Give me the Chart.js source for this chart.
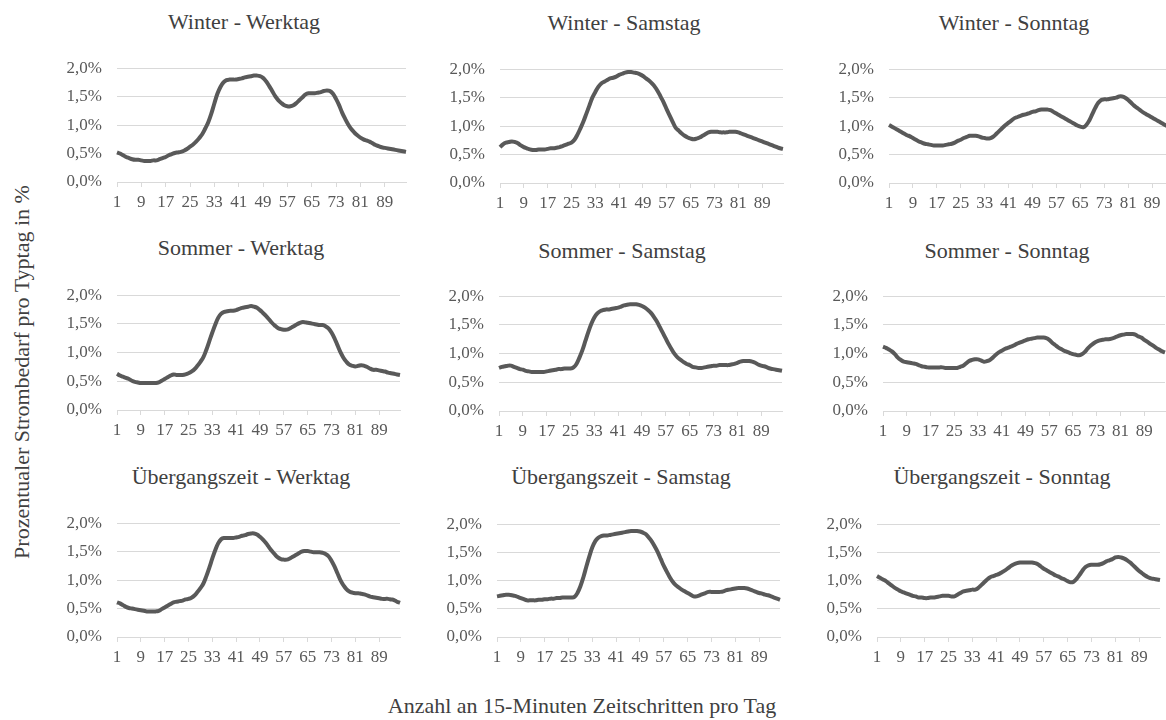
<!DOCTYPE html>
<html><head><meta charset="utf-8">
<script src="https://cdn.jsdelivr.net/npm/chart.js@4.4.1/dist/chart.umd.min.js"></script>
<style>
html,body{margin:0;padding:0;background:#fff;overflow:hidden;font-family:"Liberation Serif","Tinos","Times New Roman",Times,"DejaVu Serif",serif;}
#wrap{position:relative;width:1166px;height:720px;overflow:hidden;color:#404040;}
canvas{position:absolute;}
.ttl{position:absolute;transform:translate(-50%,-50%);white-space:nowrap;font-size:22px;line-height:1;color:#404040;font-family:"Liberation Serif","Tinos","Times New Roman",Times,"DejaVu Serif",serif;}
.ytl{position:absolute;transform:translate(-50%,-50%) rotate(-90deg);white-space:nowrap;font-size:22px;line-height:1;color:#404040;font-family:"Liberation Serif","Tinos","Times New Roman",Times,"DejaVu Serif",serif;}
</style></head><body><div id="wrap"></div>
<script>
// ---- data ----
const categories = Array.from({length:96}, (_, i) => String(i + 1));
const xTickLabels = ['1','9','17','25','33','41','49','57','65','73','81','89'];
const yTicks = [0, 0.5, 1.0, 1.5, 2.0];
const panelTitles = ['Winter - Werktag','Winter - Samstag','Winter - Sonntag',
  'Sommer - Werktag','Sommer - Samstag','Sommer - Sonntag',
  '\u00dcbergangszeit - Werktag','\u00dcbergangszeit - Samstag','\u00dcbergangszeit - Sonntag'];
const xAxisTitle = 'Anzahl an 15-Minuten Zeitschritten pro Tag';
const yAxisTitle = 'Prozentualer Strombedarf pro Typtag in %';

const winterWerktag = [0.52,0.50,0.47,0.44,0.42,0.40,0.39,0.39,0.38,0.37,0.37,0.37,0.38,0.38,0.40,0.42,
0.44,0.47,0.49,0.51,0.52,0.53,0.55,0.58,0.62,0.66,0.71,0.77,0.84,0.94,1.05,1.20,
1.38,1.55,1.67,1.75,1.79,1.80,1.80,1.80,1.81,1.82,1.84,1.85,1.86,1.87,1.87,1.86,
1.83,1.77,1.69,1.60,1.51,1.44,1.39,1.35,1.33,1.33,1.35,1.39,1.44,1.49,1.54,1.56,
1.56,1.56,1.57,1.58,1.60,1.61,1.60,1.55,1.46,1.35,1.22,1.11,1.01,0.93,0.87,0.82,
0.78,0.75,0.73,0.71,0.68,0.65,0.63,0.61,0.60,0.59,0.58,0.57,0.56,0.55,0.54,0.53];
const winterSamstag = [0.63,0.68,0.71,0.72,0.73,0.72,0.70,0.66,0.63,0.61,0.59,0.58,0.58,0.59,0.59,0.59,
0.60,0.61,0.61,0.62,0.63,0.65,0.67,0.69,0.71,0.76,0.85,0.96,1.08,1.22,1.36,1.50,
1.60,1.69,1.75,1.78,1.81,1.84,1.85,1.87,1.90,1.92,1.94,1.95,1.95,1.94,1.93,1.91,
1.88,1.84,1.80,1.75,1.69,1.61,1.51,1.41,1.29,1.18,1.07,0.97,0.92,0.87,0.83,0.80,
0.78,0.77,0.78,0.80,0.83,0.86,0.89,0.90,0.90,0.90,0.89,0.89,0.89,0.90,0.90,0.90,
0.89,0.87,0.85,0.83,0.81,0.79,0.77,0.75,0.73,0.71,0.69,0.67,0.65,0.63,0.61,0.60];
const winterSonntag = [1.02,0.99,0.96,0.93,0.90,0.87,0.84,0.82,0.79,0.76,0.73,0.71,0.69,0.68,0.67,0.66,
0.66,0.66,0.66,0.67,0.68,0.69,0.71,0.74,0.76,0.79,0.81,0.83,0.83,0.83,0.82,0.80,
0.79,0.78,0.79,0.82,0.87,0.92,0.97,1.02,1.06,1.10,1.14,1.16,1.18,1.20,1.21,1.23,
1.25,1.26,1.28,1.29,1.29,1.29,1.28,1.25,1.22,1.19,1.16,1.13,1.10,1.07,1.04,1.01,
0.99,0.98,1.02,1.10,1.21,1.32,1.41,1.46,1.47,1.47,1.48,1.49,1.50,1.52,1.52,1.50,
1.46,1.41,1.36,1.32,1.28,1.24,1.21,1.18,1.15,1.12,1.09,1.06,1.03,1.00,0.97,0.94];
const sommerWerktag = [0.63,0.60,0.58,0.56,0.54,0.51,0.49,0.48,0.47,0.47,0.47,0.47,0.47,0.47,0.48,0.51,
0.54,0.57,0.60,0.62,0.61,0.61,0.61,0.62,0.64,0.67,0.71,0.77,0.84,0.92,1.05,1.20,
1.35,1.49,1.61,1.68,1.71,1.72,1.73,1.73,1.74,1.76,1.78,1.79,1.80,1.81,1.80,1.78,
1.74,1.69,1.64,1.58,1.52,1.47,1.43,1.41,1.40,1.40,1.42,1.45,1.48,1.51,1.53,1.53,
1.52,1.51,1.50,1.49,1.48,1.48,1.46,1.42,1.35,1.25,1.13,1.01,0.91,0.84,0.79,0.77,
0.76,0.77,0.78,0.77,0.75,0.72,0.70,0.70,0.69,0.68,0.67,0.65,0.64,0.63,0.62,0.61];
const sommerSamstag = [0.75,0.77,0.78,0.79,0.79,0.77,0.75,0.73,0.72,0.70,0.69,0.68,0.68,0.68,0.68,0.68,
0.69,0.70,0.71,0.72,0.73,0.73,0.74,0.74,0.74,0.76,0.82,0.93,1.06,1.22,1.38,1.52,
1.63,1.70,1.74,1.76,1.77,1.77,1.78,1.79,1.80,1.82,1.84,1.85,1.86,1.86,1.86,1.85,
1.83,1.80,1.76,1.71,1.64,1.56,1.46,1.36,1.26,1.16,1.07,0.99,0.93,0.89,0.85,0.82,
0.80,0.77,0.76,0.75,0.75,0.76,0.77,0.78,0.79,0.79,0.80,0.80,0.80,0.80,0.81,0.82,
0.84,0.86,0.87,0.87,0.87,0.86,0.84,0.81,0.79,0.78,0.76,0.74,0.73,0.72,0.71,0.70];
const sommerSonntag = [1.12,1.10,1.07,1.04,0.99,0.93,0.89,0.86,0.85,0.84,0.83,0.82,0.80,0.78,0.77,0.76,
0.76,0.76,0.76,0.76,0.76,0.75,0.75,0.75,0.75,0.75,0.77,0.79,0.83,0.87,0.89,0.90,
0.90,0.88,0.86,0.87,0.89,0.93,0.98,1.02,1.05,1.08,1.10,1.12,1.14,1.17,1.19,1.21,
1.23,1.25,1.26,1.27,1.28,1.28,1.28,1.27,1.24,1.19,1.15,1.11,1.08,1.05,1.03,1.01,
0.99,0.98,0.97,0.99,1.03,1.09,1.14,1.18,1.21,1.23,1.24,1.25,1.25,1.26,1.28,1.30,
1.32,1.33,1.34,1.34,1.34,1.33,1.30,1.28,1.24,1.21,1.17,1.14,1.10,1.07,1.04,1.02];
const uebergangWerktag = [0.61,0.59,0.56,0.53,0.51,0.50,0.49,0.48,0.47,0.46,0.45,0.45,0.45,0.45,0.46,0.49,
0.52,0.55,0.58,0.61,0.62,0.63,0.64,0.66,0.67,0.69,0.73,0.79,0.86,0.94,1.07,1.22,
1.38,1.53,1.65,1.72,1.74,1.74,1.74,1.74,1.75,1.76,1.78,1.79,1.81,1.82,1.82,1.80,
1.76,1.71,1.65,1.58,1.51,1.45,1.40,1.37,1.36,1.36,1.38,1.41,1.44,1.47,1.50,1.51,
1.51,1.50,1.49,1.49,1.49,1.48,1.46,1.42,1.34,1.24,1.12,1.00,0.91,0.84,0.80,0.78,
0.77,0.77,0.76,0.75,0.73,0.71,0.70,0.69,0.68,0.67,0.67,0.67,0.66,0.65,0.62,0.60];
const uebergangSamstag = [0.72,0.73,0.74,0.75,0.75,0.74,0.73,0.71,0.69,0.67,0.65,0.65,0.65,0.65,0.66,0.66,
0.67,0.67,0.68,0.68,0.69,0.69,0.70,0.70,0.70,0.70,0.71,0.78,0.90,1.06,1.25,1.43,
1.59,1.70,1.76,1.79,1.80,1.80,1.81,1.82,1.83,1.84,1.85,1.86,1.87,1.88,1.88,1.88,
1.87,1.85,1.82,1.76,1.69,1.60,1.50,1.38,1.26,1.16,1.06,0.98,0.92,0.88,0.84,0.81,
0.78,0.75,0.72,0.72,0.74,0.76,0.78,0.80,0.80,0.80,0.80,0.80,0.81,0.83,0.84,0.85,
0.86,0.87,0.87,0.87,0.86,0.84,0.82,0.80,0.78,0.77,0.75,0.74,0.72,0.70,0.68,0.66];
const uebergangSonntag = [1.08,1.05,1.02,0.99,0.95,0.91,0.87,0.84,0.81,0.79,0.77,0.75,0.73,0.72,0.70,0.70,
0.69,0.69,0.70,0.70,0.71,0.72,0.73,0.73,0.73,0.72,0.72,0.75,0.78,0.81,0.82,0.83,
0.84,0.84,0.87,0.92,0.97,1.02,1.06,1.08,1.10,1.12,1.15,1.18,1.22,1.26,1.29,1.31,
1.32,1.32,1.32,1.32,1.32,1.31,1.29,1.25,1.21,1.18,1.15,1.12,1.09,1.07,1.04,1.02,
0.99,0.97,0.98,1.03,1.10,1.18,1.24,1.27,1.28,1.28,1.28,1.29,1.31,1.34,1.36,1.38,
1.41,1.42,1.41,1.39,1.36,1.32,1.27,1.22,1.17,1.13,1.09,1.06,1.04,1.03,1.02,1.01];

const panelSeries = [winterWerktag, winterSamstag, winterSonntag,
  sommerWerktag, sommerSamstag, sommerSonntag,
  uebergangWerktag, uebergangSamstag, uebergangSonntag];

// ---- layout (plot-area boxes and title centres, in page pixels) ----
const boxes = [
  {l:117,r:407,t:55,b:182,tx:244,ty:22},
  {l:500,r:784,t:56,b:183,tx:624,ty:23},
  {l:889,r:1174,t:56,b:183,tx:1014,ty:23},
  {l:117,r:401,t:282,b:410,tx:241,ty:248},
  {l:499,r:783,t:283,b:411,tx:622,ty:251},
  {l:883,r:1166,t:283,b:411,tx:1007,ty:251},
  {l:117,r:401,t:510,b:637,tx:241,ty:477},
  {l:497,r:781,t:511,b:637,tx:621,ty:477},
  {l:877,r:1161,t:511,b:637,tx:1002,ty:477}
];
const YW = 60, PT = 12, XH = 34, PR = 4;
const FONT = '"Liberation Serif", Tinos, "Times New Roman", Times, "DejaVu Serif", serif';
const GRID = '#d9d9d9', LINE = '#595959', TICK = '#595959';

const wrap = document.getElementById('wrap');
function addText(cls, txt, x, y){
  const d = document.createElement('div');
  d.className = cls; d.textContent = txt;
  d.style.left = x + 'px'; d.style.top = y + 'px';
  wrap.appendChild(d);
}

boxes.forEach((bx, k) => {
  const cv = document.createElement('canvas');
  const w = (bx.r - bx.l) + YW + PR;
  const h = (bx.b - bx.t) + PT + XH;
  cv.width = w; cv.height = h;
  cv.style.width = w + 'px'; cv.style.height = h + 'px';
  cv.style.left = (bx.l - YW) + 'px';
  cv.style.top = (bx.t - PT) + 'px';
  wrap.appendChild(cv);
  addText('ttl', panelTitles[k], bx.tx, bx.ty);

  new Chart(cv, {
    type: 'line',
    data: {
      labels: categories,
      datasets: [{
        data: panelSeries[k],
        borderColor: LINE, borderWidth: 4, pointRadius: 0,
        tension: 0.4, fill: false
      }]
    },
    options: {
      responsive: false, animation: false, devicePixelRatio: 1,
      layout: {padding: {top: PT, right: PR, left: 0, bottom: 0}},
      plugins: {legend: {display: false}, tooltip: {enabled: false}, title: {display: false}},
      scales: {
        x: {
          type: 'category', offset: false,
          afterFit: s => { s.height = XH; },
          grid: {
            drawOnChartArea: false, drawTicks: true, tickLength: 5,
            tickColor: c => xTickLabels.includes(categories[c.index]) ? GRID : 'rgba(0,0,0,0)',
            color: GRID
          },
          border: {display: true, color: GRID, width: 1},
          ticks: {
            autoSkip: false, maxRotation: 0, minRotation: 0, padding: 5,
            color: TICK, font: {family: FONT, size: 17},
            callback: function(v){ const lab = this.getLabelForValue(v); return xTickLabels.includes(lab) ? lab : ''; }
          }
        },
        y: {
          min: yTicks[0], max: yTicks[yTicks.length - 1],
          afterFit: s => { s.width = YW; },
          afterBuildTicks: s => { s.ticks = yTicks.map(v => ({value: v})); },
          grid: {color: GRID, lineWidth: 1, drawTicks: false},
          border: {display: false},
          ticks: {
            padding: 15, color: TICK, font: {family: FONT, size: 17},
            callback: v => v.toFixed(1).replace('.', ',') + '%'
          }
        }
      }
    }
  });
});

addText('ttl', xAxisTitle, 582, 706);
addText('ytl', yAxisTitle, 22, 372);
</script>
</body></html>
